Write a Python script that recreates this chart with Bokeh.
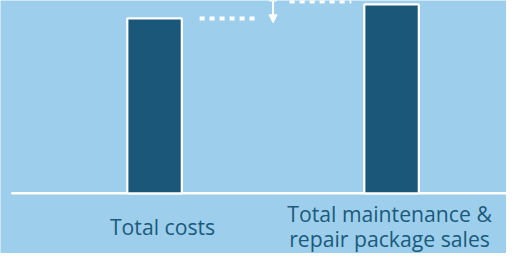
from bokeh.plotting import figure
from bokeh.models import Range1d, Arrow, NormalHead, ColumnDataSource
from bokeh.core.properties import value
from bokeh.embed import file_html
from bokeh.resources import INLINE

# ---- data ----
categories = ["Total costs", "Total maintenance &\nrepair package sales"]
bar_values = [92.5, 100.0]
connector_levels = [92.5, 101.5]   # dotted connector levels (left, right)
gap_top = 106.0                    # top of the double arrow (off-chart)

# ---- style ----
BG = "#9dcfec"
BAR = "#1a5779"
TXT = "#1b5a7b"
W, H = 506, 253

xs = [i + 0.5 for i in range(len(categories))]

p = figure(width=W, height=H, output_backend="svg", toolbar_location=None,
           x_range=Range1d(-0.15, 1.985), y_range=Range1d(-31.85, 102.0),
           min_border=0, background_fill_color=BG, border_fill_color=BG,
           outline_line_color=None)
p.axis.visible = False
p.grid.visible = False

src = ColumnDataSource(dict(x=xs, top=bar_values, label=categories,
                            dx=[8, -2]))

# baseline
p.segment(x0=[-0.105], y0=[0], x1=[2.0], y1=[0], line_color="white", line_width=2.5)

# bars
p.vbar(x="x", top="top", bottom=0, width=0.23, source=src,
       fill_color=BAR, line_color="white", line_width=2.2)

# dotted connectors
mid = (xs[0] + xs[1]) / 2
p.segment(x0=[xs[0] + 0.19, mid + 0.07], y0=connector_levels,
          x1=[mid - 0.06, xs[1] - 0.17], y1=connector_levels,
          line_color="white", line_width=4, line_dash="5 5", line_cap="butt")

# double arrow
p.add_layout(Arrow(x_start=mid, y_start=bar_values[0] - 2.3, x_end=mid, y_end=gap_top,
                   line_color="white", line_width=2,
                   start=NormalHead(size=8, fill_color="white", line_color="white"),
                   end=NormalHead(size=8, fill_color="white", line_color="white")))

# category labels
p.text(x="x", y=-17.5, text="label", source=src, x_offset="dx",
       text_align="center", text_baseline="middle",
       text_font=value("Open Sans"), text_font_size="21.2px",
       text_color=TXT, text_line_height=0.86)

open("out.html", "w").write(file_html(p, INLINE))
